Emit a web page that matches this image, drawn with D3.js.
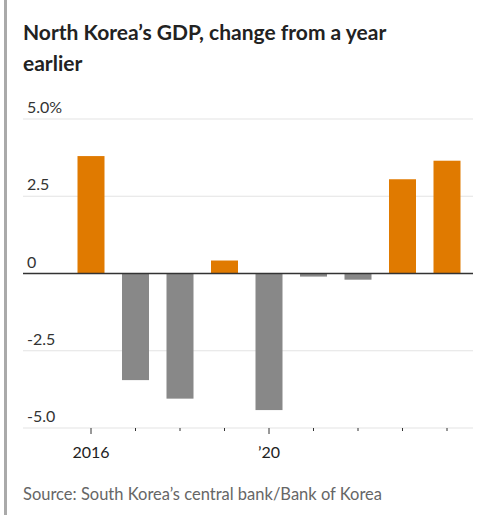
<!DOCTYPE html>
<html><head><meta charset="utf-8">
<script src="https://cdn.jsdelivr.net/npm/d3@7"></script>
<style>body{margin:0;background:#fff}</style></head>
<body><svg id="c" width="502" height="515"></svg>
<script>
const years = [2016,2017,2018,2019,2020,2021,2022,2023,2024];
const values = [3.8,-3.45,-4.05,0.42,-4.42,-0.1,-0.2,3.05,3.65];
const tickValues = [5,2.5,0,-2.5,-5];
const tickLabels = ["5.0%","2.5","0","-2.5","-5.0"];
const xLabels = {2016:"2016",2020:"’20"};

const svg = d3.select("#c");
const font = "Lato, 'Noto Sans', sans-serif";
svg.append("rect").attr("x",4).attr("y",0).attr("width",3).attr("height",515).attr("fill","#aaa");
svg.append("text").attr("x",23).attr("y",40).attr("font-family",font).attr("font-weight","bold").attr("font-size",21).attr("fill","#222").text("North Korea’s GDP, change from a year");
svg.append("text").attr("x",23).attr("y",71).attr("font-family",font).attr("font-weight","bold").attr("font-size",21).attr("fill","#222").text("earlier");

const y = d3.scaleLinear().domain([-5,5]).range([428,119]);
const x = d3.scaleLinear().domain([2016,2024]).range([91,447]);
const L=23,R=473;
tickValues.forEach((t,i)=>{
  if(t!==0) svg.append("line").attr("x1",L).attr("x2",R).attr("y1",y(t)).attr("y2",y(t)).attr("stroke","#e3e3e3").attr("stroke-width",1);
  svg.append("text").attr("x",L+4).attr("y",y(t)-6).attr("font-family",font).attr("font-size",16).attr("fill","#333").text(tickLabels[i]);
});
const bw=27;
svg.selectAll("rect.b").data(years).enter().append("rect")
  .attr("x",d=>x(d)-bw/2).attr("width",bw)
  .attr("y",(d,i)=>y(Math.max(0,values[i])))
  .attr("height",(d,i)=>Math.abs(y(values[i])-y(0)))
  .attr("fill",(d,i)=>values[i]>=0?"#e07a00":"#888");
svg.append("line").attr("x1",L).attr("x2",R).attr("y1",y(0)).attr("y2",y(0)).attr("stroke","#333").attr("stroke-width",1.3);
years.forEach(yr=>{
  svg.append("line").attr("x1",x(yr)).attr("x2",x(yr)).attr("y1",y(-5)).attr("y2",y(-5)+(xLabels[yr]?6:3)).attr("stroke","#333").attr("stroke-width",1);
  if(xLabels[yr]) svg.append("text").attr("x",x(yr)).attr("y",458).attr("text-anchor","middle").attr("font-family",font).attr("font-size",16).attr("fill","#222").text(xLabels[yr]);
});
svg.append("text").attr("x",23).attr("y",500).attr("font-family",font).attr("font-size",16.5).attr("fill","#666").text("Source: South Korea’s central bank/Bank of Korea");
</script></body></html>
